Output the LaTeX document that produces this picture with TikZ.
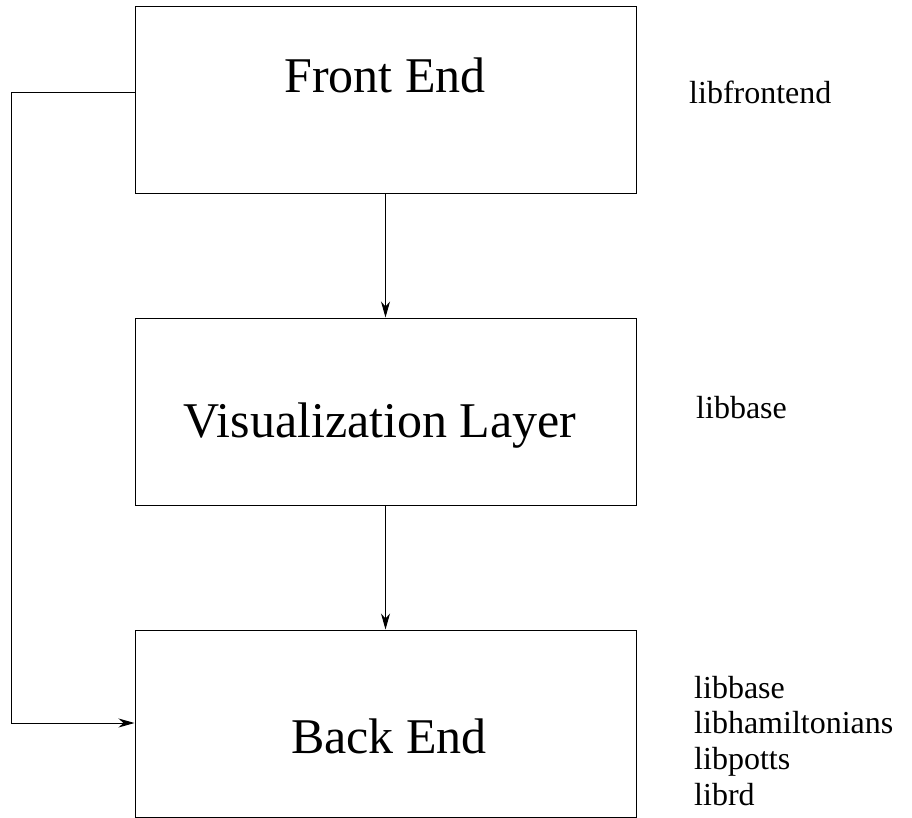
\documentclass[tikz,border=0pt]{standalone}
\usepackage{fontspec}
\setmainfont{Liberation Serif}
\usetikzlibrary{arrows.meta}
\begin{document}
\begin{tikzpicture}[x=1pt,y=-1pt,
  layerbox/.style={draw=black,line width=1pt,minimum width=501pt,minimum height=187pt,inner sep=0pt},
  bigtext/.style={inner sep=0pt,anchor=base,font=\fontsize{50}{60}\selectfont},
  libtext/.style={inner sep=0pt,anchor=base west,font=\fontsize{32}{38}\selectfont},
  conn/.style={draw=black,line width=1pt,-{Stealth[length=16pt,width=9pt,inset=5pt]}}]
\useasboundingbox (0,0) rectangle (912,818);
\node[layerbox] (fe) at (385.5,100.5) {};
\node[layerbox] (vl) at (385.5,411.5) {};
\node[layerbox] (be) at (385.5,723.5) {};
\node[bigtext] (fet) at (385,93) {Front End};
\node[bigtext] (vlt) at (380,437) {Visualization Layer};
\node[bigtext] (bet) at (389,753) {Back End};
\node[libtext] (l1) at (689,104) {libfrontend};
\node[libtext] (l2) at (696,418) {libbase};
\node[libtext] (l3) at (694,698) {libbase};
\node[libtext] (l4) at (694,733) {libhamiltonians};
\node[libtext] (l5) at (694,769) {libpotts};
\node[libtext] (l6) at (694,805) {librd};
\coordinate (c1) at (11,93);
\coordinate (c2) at (11,723);
\draw[conn] (fe.south) -- (vl.north);
\draw[conn] (vl.south) -- (be.north);
\draw[conn] (fe.west |- c1) -- (c1) -- (c2) -- (be.west |- c2);
\end{tikzpicture}
\end{document}
